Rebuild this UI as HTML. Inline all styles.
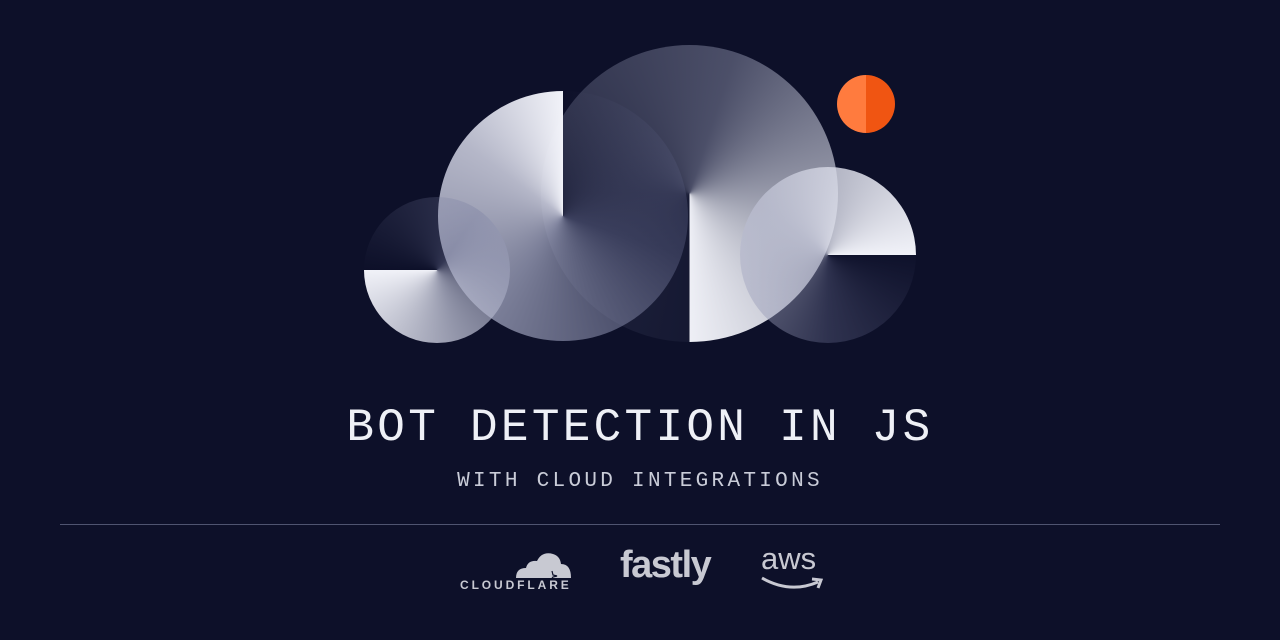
<!DOCTYPE html>
<html><head><style>
html,body{margin:0;padding:0;}
body{width:1280px;height:640px;background:#0d1029;position:relative;overflow:hidden;font-family:"Liberation Mono",monospace;}
.c{position:absolute;border-radius:50%;}
.t{position:absolute;left:0;width:1280px;text-align:center;color:#eef0f6;white-space:nowrap;}
</style></head><body>
<!-- big circle -->
<div class="c" style="left:541px;top:45px;width:297px;height:297px;background:conic-gradient(from 180deg,rgba(120,126,160,0.08),rgba(140,145,175,0.18) 25%,rgba(170,174,200,0.4) 55%,rgba(230,232,242,0.72) 80%,rgba(245,246,252,0.97) 99.9%);"></div>
<!-- left medium circle -->
<div class="c" style="left:438px;top:91px;width:250px;height:250px;background:conic-gradient(from 0deg,rgba(30,34,70,0.0),rgba(90,95,130,0.45) 30%,rgba(170,174,200,0.7) 60%,rgba(210,212,228,0.85) 85%,rgba(245,246,252,0.98) 99.9%);"></div>
<!-- small left circle -->
<div class="c" style="left:364px;top:197px;width:146px;height:146px;background:conic-gradient(from 270deg,rgba(30,34,70,0.0),rgba(120,125,160,0.35) 35%,rgba(190,193,212,0.75) 70%,rgba(245,246,252,0.98) 99.9%);"></div>
<!-- right circle -->
<div class="c" style="left:740px;top:167px;width:176px;height:176px;background:conic-gradient(from 90deg,rgba(40,44,80,0.05),rgba(110,114,150,0.35) 25%,rgba(190,193,212,0.7) 60%,rgba(245,246,252,0.98) 99.9%);"></div>
<!-- orange -->
<div class="c" style="left:837px;top:75px;width:58px;height:58px;background:linear-gradient(90deg,#ff7b3e 50%,#f05512 50%);"></div>

<div class="t" style="top:400px;font-size:46px;letter-spacing:3.3px;line-height:56px;">BOT DETECTION IN JS</div>
<div class="t" style="top:469px;font-size:21px;letter-spacing:3.3px;line-height:26px;color:#c9ccd8;">WITH CLOUD INTEGRATIONS</div>
<div style="position:absolute;left:60px;top:524px;width:1160px;height:1px;background:#4f5470;"></div>

<!-- cloudflare -->
<svg style="position:absolute;left:512px;top:550px" width="62" height="30" viewBox="0 0 62 30">
<path d="M4 28 Q4 18 14 18 Q16 10 25 11 Q30 1 41 4 Q48 6 49 14 Q59 14 59 28 Z" fill="#c8c9d2"/>
<path d="M40 21 L41 25 L45 26 L41 27 L40 28" stroke="#0d1029" stroke-width="1.2" fill="none"/>
</svg>
<div style="position:absolute;left:460px;top:578px;font-family:'Liberation Sans',sans-serif;font-weight:bold;font-size:12px;letter-spacing:2.9px;color:#c8c9d2;">CLOUDFLARE</div>
<!-- fastly -->
<div style="position:absolute;left:620px;top:544px;font-family:'Liberation Sans',sans-serif;font-weight:bold;font-size:38px;letter-spacing:-1.5px;color:#c8c9d2;">fastly</div>
<!-- aws -->
<div style="position:absolute;left:761px;top:541px;font-family:'Liberation Sans',sans-serif;font-size:31px;color:#c8c9d2;letter-spacing:0px;">aws</div>
<svg style="position:absolute;left:760px;top:574px" width="66" height="20" viewBox="0 0 66 20">
<path d="M2 4 Q30 20 58 8" stroke="#c8c9d2" stroke-width="3" fill="none"/>
<path d="M52 5 L61 6 L58 14" stroke="#c8c9d2" stroke-width="3" fill="none"/>
</svg>
</body></html>
